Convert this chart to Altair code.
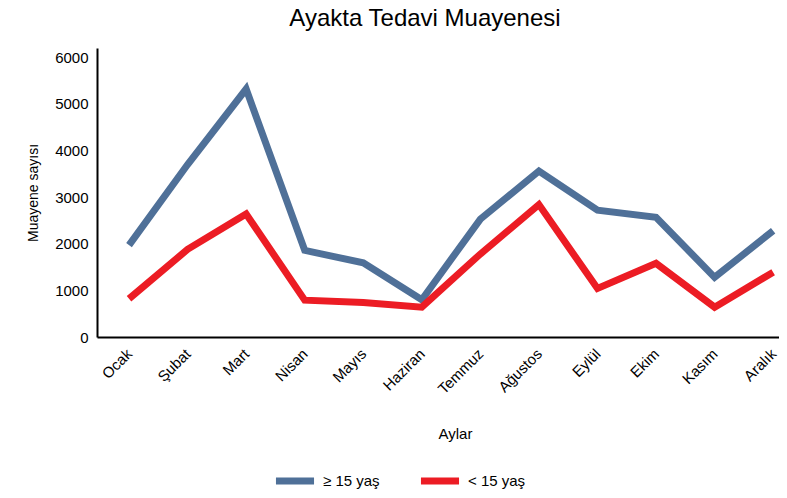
import altair as alt
import pandas as pd

months = ["Ocak", "Şubat", "Mart", "Nisan", "Mayıs", "Haziran",
          "Temmuz", "Ağustos", "Eylül", "Ekim", "Kasım", "Aralık"]
adults = [1970, 3700, 5320, 1860, 1590, 800, 2530, 3560, 2720, 2570, 1280, 2280]
children = [820, 1880, 2640, 790, 740, 640, 1780, 2840, 1040, 1580, 640, 1390]
series = ["≥ 15 yaş", "< 15 yaş"]
colors = ["#4F7098", "#EC1C24"]

rows = []
for i, m in enumerate(months):
    rows.append({"idx": i, "Ay": m, "Seri": series[0], "Değer": adults[i]})
    rows.append({"idx": i, "Ay": m, "Seri": series[1], "Değer": children[i]})
df = pd.DataFrame(rows)

FONT = "Liberation Sans"
label_expr = "[" + ",".join("'" + m + "'" for m in months) + "][datum.value]"

chart = alt.Chart(df).mark_line(strokeWidth=7, strokeJoin="miter").encode(
    x=alt.X("idx:Q", title="Aylar",
            scale=alt.Scale(domain=[-0.547, 11.1], nice=False, zero=False),
            axis=alt.Axis(values=list(range(len(months))), labelExpr=label_expr,
                          labelAngle=-45, labelAlign="right", labelBaseline="middle",
                          ticks=False, grid=False, domainColor="#000", domainWidth=2,
                          labelFontSize=15, titleFontSize=15, labelColor="#000",
                          titleColor="#000", titleFontWeight="normal",
                          labelPadding=14, titlePadding=30, titleX=358,
                          labelFont=FONT, titleFont=FONT, labelFlush=False,
                          labelOverlap=False)),
    y=alt.Y("Değer:Q", title="Muayene sayısı",
            scale=alt.Scale(domain=[0, 6200], nice=False),
            axis=alt.Axis(values=[0, 1000, 2000, 3000, 4000, 5000, 6000], ticks=False,
                          grid=False, domainColor="#000", domainWidth=2, format="d",
                          labelFontSize=15, titleFontSize=14, labelColor="#000",
                          titleColor="#000", titleFontWeight="normal",
                          labelPadding=9, titlePadding=14, labelFont=FONT, titleFont=FONT)),
    color=alt.Color("Seri:N", sort=series,
                    scale=alt.Scale(domain=series, range=colors),
                    legend=alt.Legend(title=None, orient="none", direction="horizontal",
                                      legendX=175, legendY=410,
                                      symbolType="stroke", symbolStrokeWidth=7,
                                      symbolOpacity=1,
                                      symbolSize=1450, labelFontSize=15, labelFont=FONT,
                                      labelColor="#000", columnPadding=26, labelOffset=5)),
).properties(
    width=682, height=289,
    padding={"left": 89, "top": 40, "right": 0, "bottom": 153},
    autosize=alt.AutoSizeParams(type="none"),
    title=alt.Title("Ayakta Tedavi Muayenesi", fontSize=24, font=FONT,
                    fontWeight="normal", color="#000", offset=17, anchor="middle", dx=-13),
).configure_view(stroke=None)

chart.save("out.html", embed_options={"renderer": "svg", "actions": False})
